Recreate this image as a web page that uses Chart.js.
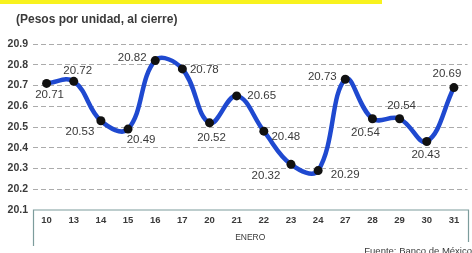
<!DOCTYPE html>
<html>
<head>
<meta charset="utf-8">
<script src="https://cdn.jsdelivr.net/npm/chart.js@4"></script>
<style>
  body { margin: 0; background: #fff; }
  #wrap { position: relative; width: 472px; height: 253px; }
</style>
</head>
<body>
<div id="wrap"><canvas id="chart"></canvas></div>
<script>
// Dias de enero y tipo de cambio al cierre
const days = ["10", "13", "14", "15", "16", "17", "20", "21", "22", "23", "24", "27", "28", "29", "30", "31"];
const closes = [20.71, 20.72, 20.53, 20.49, 20.82, 20.78, 20.52, 20.65, 20.48, 20.32, 20.29, 20.73, 20.54, 20.54, 20.43, 20.69];
const yTicks = [20.1, 20.2, 20.3, 20.4, 20.5, 20.6, 20.7, 20.8, 20.9];

const subtitle = "(Pesos por unidad, al cierre)";
const monthLabel = "ENERO";
const source = "Fuente: Banco de México";

const FONT = "'Liberation Sans', Arial, sans-serif";
const INK = "#3a3a3a";

// where each value label sits relative to its point (dx, dy)
const labelOffsets = [
  [3, 11], [4, -11], [-21, 11], [13, 11], [-23, -3], [22, 1], [2, 15], [25, 0],
  [22, 6], [-25, 11], [27, 4], [-23, -2], [-7, 14], [2, -13], [-1, 13], [-7, -14]
];

// header bar, value labels, axis box and source line
const decorations = {
  id: "decorations",
  beforeDraw(chart) {
    const ctx = chart.ctx;
    ctx.save();
    ctx.fillStyle = "#f8f21e";
    ctx.fillRect(0, 0, 382, 4);
    ctx.fillStyle = INK;
    ctx.font = "bold 12px " + FONT;
    ctx.textAlign = "left";
    ctx.textBaseline = "middle";
    ctx.fillText(subtitle, 16, 20);
    ctx.restore();
  },
  afterDatasetsDraw(chart) {
    const ctx = chart.ctx;
    const area = chart.chartArea;
    const meta = chart.getDatasetMeta(0);
    ctx.save();
    // box under the plot holding the day labels
    ctx.strokeStyle = "#7c9c9c";
    ctx.lineWidth = 1.2;
    ctx.beginPath();
    ctx.moveTo(33.5, 246);
    ctx.lineTo(33.5, area.bottom);
    ctx.lineTo(468.5, area.bottom);
    ctx.lineTo(468.5, 242);
    ctx.stroke();

    ctx.fillStyle = INK;
    ctx.font = "11.5px " + FONT;
    ctx.textAlign = "center";
    ctx.textBaseline = "middle";
    meta.data.forEach((pt, i) => {
      const off = labelOffsets[i];
      ctx.fillText(closes[i].toFixed(2), pt.x + off[0], pt.y + off[1]);
    });

    ctx.font = "9.5px " + FONT;
    ctx.textAlign = "right";
    ctx.textBaseline = "top";
    ctx.fillText(source, 472, 247);
    ctx.restore();
  }
};

new Chart(document.getElementById("chart"), {
  type: "line",
  data: {
    labels: days,
    datasets: [{
      data: closes,
      borderColor: "#1f49d0",
      borderWidth: 4.5,
      tension: 0.4,
      pointRadius: 4.5,
      pointBackgroundColor: "#111",
      pointBorderColor: "#111",
      pointBorderWidth: 0,
      fill: false
    }]
  },
  options: {
    responsive: true,
    maintainAspectRatio: false,
    animation: false,
    layout: { padding: { top: 44, right: 2, bottom: 0, left: 0 } },
    plugins: { legend: { display: false }, tooltip: { enabled: false } },
    scales: {
      x: {
        offset: true,
        grid: { display: false, drawTicks: false },
        border: { display: false },
        ticks: { color: INK, font: { family: FONT, size: 9.5, weight: "bold" }, padding: 5, maxRotation: 0 },
        title: {
          display: true,
          text: monthLabel,
          color: INK,
          font: { family: FONT, size: 8.5 },
          padding: { top: 0, bottom: 10 }
        },
        afterFit(scale) { scale.height = 43; }
      },
      y: {
        min: 20.1,
        max: 20.9,
        afterBuildTicks(scale) { scale.ticks = yTicks.map(v => ({ value: v })); },
        grid: {
          drawTicks: false,
          lineWidth: 1,
          color: ctx => ctx.index === 0 ? "rgba(0,0,0,0)" : "#ababab"
        },
        border: { display: false, dash: [5, 3] },
        ticks: {
          color: INK,
          font: { family: FONT, size: 10.5, weight: "bold" },
          padding: 5,
          callback: v => v.toFixed(1)
        },
        afterFit(scale) { scale.width = 33; }
      }
    }
  },
  plugins: [decorations]
});
</script>
</body>
</html>
